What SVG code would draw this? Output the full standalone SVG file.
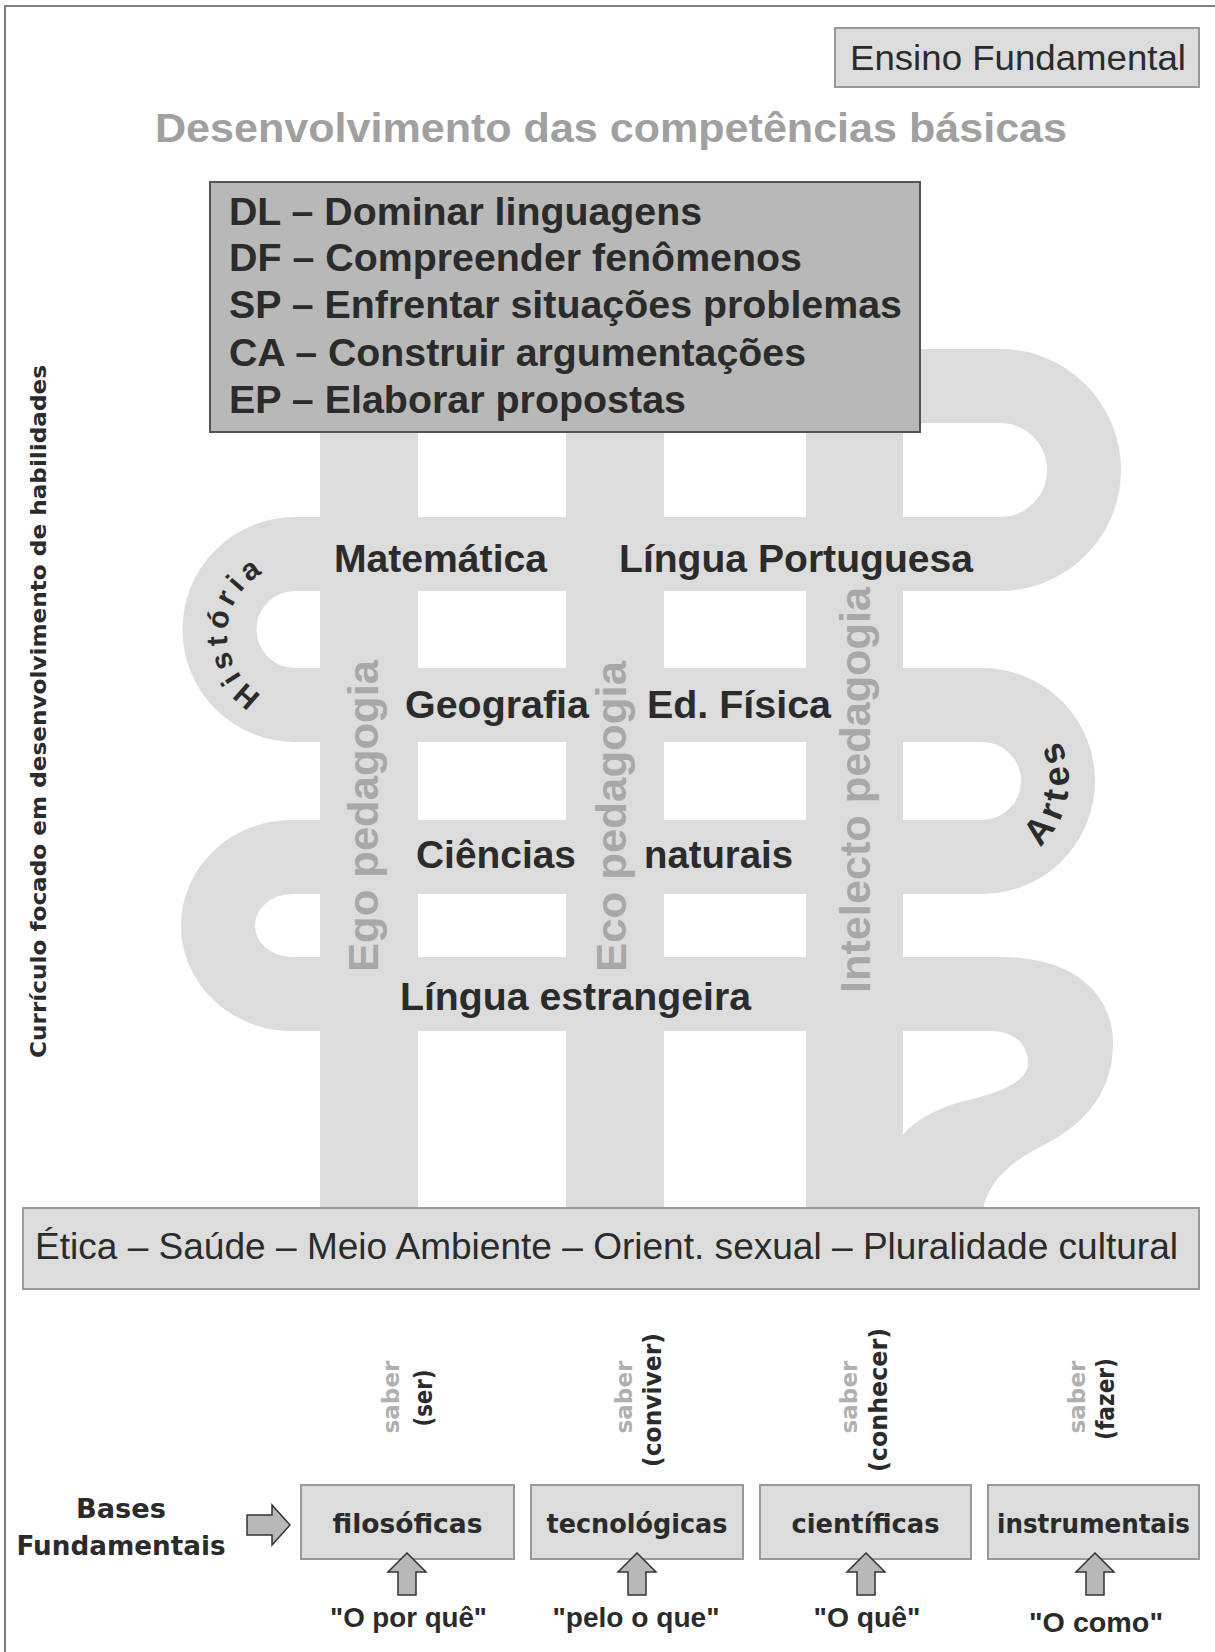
<svg xmlns="http://www.w3.org/2000/svg" width="1215" height="1652" viewBox="0 0 1215 1652">
<style>
text { font-family: "Liberation Sans", Arial, sans-serif; fill: #2b2b2b; }
.dv { font-family: "DejaVu Sans", Verdana, sans-serif; font-weight: bold; }
.b { font-weight: bold; }
.lbl { font-size: 39px; font-weight: bold; }
.comp { font-size: 39px; font-weight: bold; }
.ped { font-size: 42px; font-weight: bold; fill: #a8a8a8; }
.box { fill: #dcdcdc; stroke: #999999; stroke-width: 2; }
.band { fill: none; stroke: #dcdcdc; stroke-width: 74; }
.gray { fill: #dcdcdc; }
.arrow { fill: #b8b8b8; stroke: #333333; stroke-width: 1.5; }
.saber { font-size: 23px; fill: #b0b0b0; }
.par { font-size: 24px; }
.base { font-size: 26px; }
.q { font-size: 28px; font-weight: bold; }
</style>

<path id="frame" d="M5 1652 V6 H1215" fill="none" stroke="#808080" stroke-width="2"/>

<g id="serpentine">
  <path class="band" d="M 600 386 L 1000 386 A 84 84 0 0 1 1000 554 L 295 554 A 75.5 75.5 0 0 0 295 705 L 982 705 A 76 76 0 0 1 982 857 L 292 857 A 74 68.5 0 0 0 292 994 L 1000 994"/>
  <path class="gray" d="M 960 957 L 1000 957 C 1075 957 1113 995 1113 1043 C 1113 1100 1075 1130 1040 1147 C 1005 1165 988 1185 983 1209 L 888 1209 L 903 1135 C 915 1120 935 1110 957 1103 C 990 1095 1028 1085 1028 1063 C 1028 1045 1015 1031 990 1031 L 960 1031 Z"/>
  <rect class="gray" x="320" y="400" width="98" height="809"/>
  <rect class="gray" x="566" y="400" width="98" height="809"/>
  <rect class="gray" x="806" y="400" width="97" height="809"/>
</g>

<g id="ensino">
  <rect class="box" x="835" y="28" width="364" height="59"/>
  <text x="850" y="70" font-size="35" textLength="336" lengthAdjust="spacingAndGlyphs">Ensino Fundamental</text>
</g>

<g id="title">
  <text x="155" y="142" font-size="41" class="b" style="fill:#a0a0a0" textLength="912" lengthAdjust="spacingAndGlyphs">Desenvolvimento das competências básicas</text>
</g>

<g id="competencias">
  <rect x="210" y="182" width="710" height="250" fill="#b8b8b8" stroke="#555555" stroke-width="2"/>
  <text class="comp" x="229" y="225" textLength="473" lengthAdjust="spacingAndGlyphs">DL – Dominar linguagens</text>
  <text class="comp" x="229" y="271" textLength="573" lengthAdjust="spacingAndGlyphs">DF – Compreender fenômenos</text>
  <text class="comp" x="229" y="318" textLength="673" lengthAdjust="spacingAndGlyphs">SP – Enfrentar situações problemas</text>
  <text class="comp" x="229" y="366" textLength="577" lengthAdjust="spacingAndGlyphs">CA – Construir argumentações</text>
  <text class="comp" x="229" y="413" textLength="457" lengthAdjust="spacingAndGlyphs">EP – Elaborar propostas</text>
</g>

<g id="disciplinas">
  <text class="lbl" x="334" y="572" textLength="213" lengthAdjust="spacingAndGlyphs">Matemática</text>
  <text class="lbl" x="619" y="572" textLength="354" lengthAdjust="spacingAndGlyphs">Língua Portuguesa</text>
  <text class="lbl" x="405" y="718" textLength="184" lengthAdjust="spacingAndGlyphs">Geografia</text>
  <text class="lbl" x="647" y="718" textLength="184" lengthAdjust="spacingAndGlyphs">Ed. Física</text>
  <text class="lbl" x="416" y="868" textLength="160" lengthAdjust="spacingAndGlyphs">Ciências</text>
  <text class="lbl" x="644" y="868" textLength="149" lengthAdjust="spacingAndGlyphs">naturais</text>
  <text class="lbl" x="400" y="1010" textLength="351" lengthAdjust="spacingAndGlyphs">Língua estrangeira</text>
</g>

<g id="historia">
  <path id="histPath" d="M 262 694.6 A 70 70 0 0 1 290.9 564.3" fill="none"/>
  <text font-size="30" font-weight="bold" letter-spacing="5"><textPath href="#histPath">História</textPath></text>
</g>

<g id="artes">
  <path id="artesPath" d="M 1039.1 846.7 A 87 87 0 0 0 1048.6 725.1" fill="none"/>
  <text font-size="36" font-weight="bold" letter-spacing="6"><textPath href="#artesPath">Artes</textPath></text>
</g>

<g id="pedagogias">
  <text class="ped" transform="translate(378,972) rotate(-90)" textLength="312" lengthAdjust="spacingAndGlyphs">Ego pedagogia</text>
  <text class="ped" transform="translate(626,972) rotate(-90)" textLength="311" lengthAdjust="spacingAndGlyphs">Eco pedagogia</text>
  <text class="ped" transform="translate(870,993) rotate(-90)" textLength="406" lengthAdjust="spacingAndGlyphs">Intelecto pedagogia</text>
</g>

<g id="curriculo">
  <text class="dv" font-size="21" transform="translate(46,1058) rotate(-90)" textLength="693" lengthAdjust="spacingAndGlyphs">Currículo focado em desenvolvimento de habilidades</text>
</g>

<g id="temas">
  <rect class="box" x="23" y="1208" width="1176" height="81"/>
  <text x="35" y="1259" font-size="36.5" textLength="1143" lengthAdjust="spacingAndGlyphs">Ética – Saúde – Meio Ambiente – Orient. sexual – Pluralidade cultural</text>
</g>

<g id="bases">
  <text class="dv base" x="121" y="1518" text-anchor="middle" textLength="90" lengthAdjust="spacingAndGlyphs">Bases</text>
  <text class="dv base" x="121" y="1555" text-anchor="middle" textLength="209" lengthAdjust="spacingAndGlyphs">Fundamentais</text>
</g>

<g id="filosoficas">
  <rect class="box" x="301" y="1485" width="213" height="74"/>
  <text class="dv base" x="407.5" y="1533" text-anchor="middle" textLength="150" lengthAdjust="spacingAndGlyphs">filosóficas</text>
  <text class="dv saber" transform="translate(399,1397) rotate(-90)" text-anchor="middle" textLength="73" lengthAdjust="spacingAndGlyphs">saber</text>
  <text class="dv par" transform="translate(432,1398) rotate(-90)" text-anchor="middle" textLength="57" lengthAdjust="spacingAndGlyphs">(ser)</text>
  <text class="q" x="408.5" y="1627" text-anchor="middle" textLength="157" lengthAdjust="spacingAndGlyphs">"O por quê"</text>
</g>

<g id="tecnologicas">
  <rect class="box" x="531" y="1485" width="212" height="74"/>
  <text class="dv base" x="637" y="1533" text-anchor="middle" textLength="181" lengthAdjust="spacingAndGlyphs">tecnológicas</text>
  <text class="dv saber" transform="translate(632,1397) rotate(-90)" text-anchor="middle" textLength="73" lengthAdjust="spacingAndGlyphs">saber</text>
  <text class="dv par" transform="translate(661,1400) rotate(-90)" text-anchor="middle" textLength="134" lengthAdjust="spacingAndGlyphs">(conviver)</text>
  <text class="q" x="636" y="1627" text-anchor="middle" textLength="167" lengthAdjust="spacingAndGlyphs">"pelo o que"</text>
</g>

<g id="cientificas">
  <rect class="box" x="760" y="1485" width="211" height="74"/>
  <text class="dv base" x="865.5" y="1533" text-anchor="middle" textLength="148" lengthAdjust="spacingAndGlyphs">científicas</text>
  <text class="dv saber" transform="translate(857,1397) rotate(-90)" text-anchor="middle" textLength="73" lengthAdjust="spacingAndGlyphs">saber</text>
  <text class="dv par" transform="translate(887,1400) rotate(-90)" text-anchor="middle" textLength="144" lengthAdjust="spacingAndGlyphs">(conhecer)</text>
  <text class="q" x="867" y="1627" text-anchor="middle" textLength="107" lengthAdjust="spacingAndGlyphs">"O quê"</text>
</g>

<g id="instrumentais">
  <rect class="box" x="988" y="1485" width="211" height="74"/>
  <text class="dv base" x="1093.5" y="1533" text-anchor="middle" textLength="193" lengthAdjust="spacingAndGlyphs">instrumentais</text>
  <text class="dv saber" transform="translate(1085,1397) rotate(-90)" text-anchor="middle" textLength="73" lengthAdjust="spacingAndGlyphs">saber</text>
  <text class="dv par" transform="translate(1114,1399) rotate(-90)" text-anchor="middle" textLength="82" lengthAdjust="spacingAndGlyphs">(fazer)</text>
  <text class="q" x="1096" y="1632" text-anchor="middle" textLength="134" lengthAdjust="spacingAndGlyphs">"O como"</text>
</g>

<g id="connectors">
  <polygon class="arrow" points="247,1515 272,1515 272,1505 290,1525 272,1545 272,1535 247,1535"/>
  <polygon class="arrow" points="407,1553 426,1572 416,1572 416,1595 398,1595 398,1572 388,1572"/>
  <polygon class="arrow" points="637,1553 656,1572 646,1572 646,1595 628,1595 628,1572 618,1572"/>
  <polygon class="arrow" points="866,1553 885,1572 875,1572 875,1595 857,1595 857,1572 847,1572"/>
  <polygon class="arrow" points="1095,1553 1114,1572 1104,1572 1104,1595 1086,1595 1086,1572 1076,1572"/>
</g>
</svg>
